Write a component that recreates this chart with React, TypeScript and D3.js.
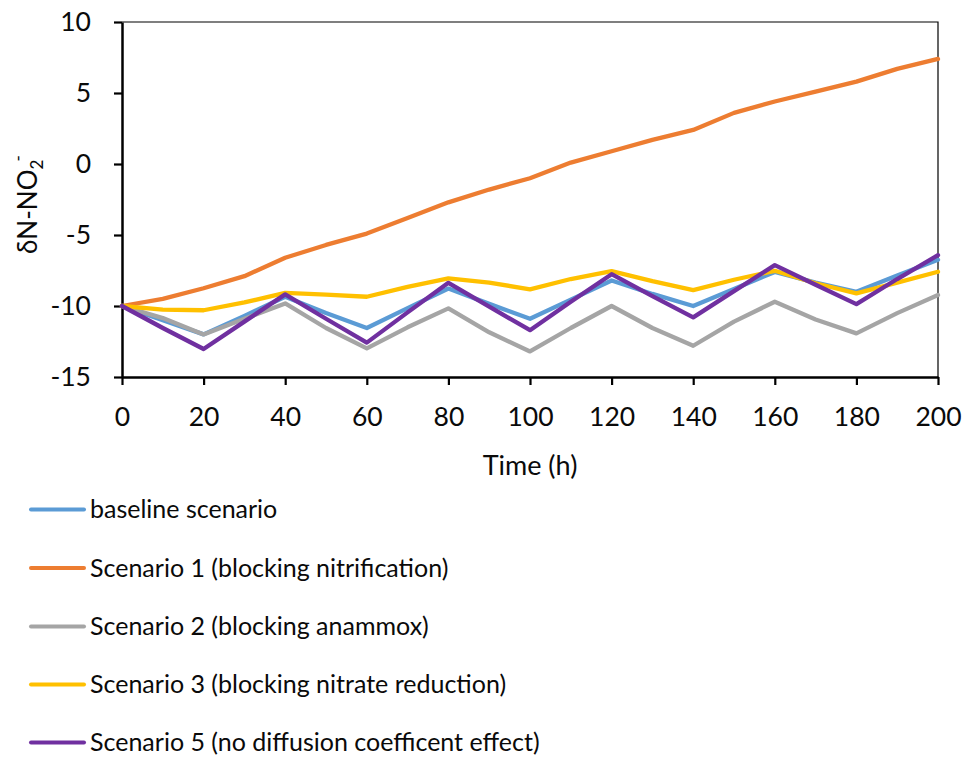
import { useEffect, useRef } from 'react';
import * as d3 from 'd3';

// time axis (h), one reading every 10 h
const hours = [0, 10, 20, 30, 40, 50, 60, 70, 80, 90, 100, 110, 120, 130, 140, 150, 160, 170, 180, 190, 200];

const baseline = [-10, -11.0, -12.0, -10.7, -9.35, -10.5, -11.55, -10.15, -8.77, -9.85, -10.9, -9.55, -8.2, -9.15, -10.0, -8.8, -7.6, -8.35, -9.0, -7.85, -6.75];
const scenario1 = [-10, -9.5, -8.75, -7.9, -6.6, -5.7, -4.9, -3.8, -2.7, -1.8, -1.0, 0.1, 0.9, 1.7, 2.4, 3.6, 4.4, 5.1, 5.8, 6.7, 7.4];
const scenario2 = [-10, -10.85, -12.0, -10.9, -9.82, -11.55, -12.98, -11.5, -10.17, -11.85, -13.2, -11.55, -10.0, -11.55, -12.8, -11.1, -9.7, -10.95, -11.93, -10.5, -9.23];
const scenario3 = [-10, -10.25, -10.3, -9.75, -9.07, -9.2, -9.35, -8.65, -8.06, -8.35, -8.83, -8.1, -7.55, -8.25, -8.88, -8.15, -7.52, -8.4, -9.11, -8.35, -7.59];
const scenario5 = [-10, -11.55, -13.03, -11.1, -9.18, -10.9, -12.58, -10.45, -8.37, -10.05, -11.7, -9.7, -7.76, -9.3, -10.8, -8.95, -7.12, -8.5, -9.87, -8.1, -6.42];

const seriesNames = [
    'baseline scenario',
    'Scenario 1 (blocking nitrification)',
    'Scenario 2 (blocking anammox)',
    'Scenario 3 (blocking nitrate reduction)',
    'Scenario 5 (no diffusion coefficent effect)',
];
const seriesValues = [baseline, scenario1, scenario2, scenario3, scenario5];
const colors = ['#5B9BD5', '#ED7D31', '#A5A5A5', '#FFC000', '#7030A0'];

const xTicks = [0, 20, 40, 60, 80, 100, 120, 140, 160, 180, 200];
const yTicks = [-15, -10, -5, 0, 5, 10];

const [width, height] = [966, 757];
const plot = { left: 122, right: 938, top: 22, bottom: 377 };
const font = 'Lato, "Open Sans", sans-serif';

function App() {
    const node = useRef<SVGSVGElement>(null);

    useEffect(() => {
        if (!node.current) return;
        const svg = d3.select(node.current);
        svg.selectAll('*').remove();

        const x = d3.scaleLinear().domain([0, 200]).range([plot.left, plot.right]);
        const y = d3.scaleLinear().domain([-15, 10]).range([plot.bottom, plot.top]);

        // thin frame on top and right
        svg.append('path')
            .attr('d', `M${plot.left},${plot.top}H${plot.right}V${plot.bottom}`)
            .attr('fill', 'none').attr('stroke', '#000').attr('stroke-width', 1.2);

        const xAxis = svg.append('g')
            .attr('transform', `translate(0,${plot.bottom})`)
            .call(d3.axisBottom(x).tickValues(xTicks).tickSize(8).tickSizeOuter(0).tickPadding(22));
        const yAxis = svg.append('g')
            .attr('transform', `translate(${plot.left},0)`)
            .call(d3.axisLeft(y).tickValues(yTicks).tickSize(8).tickSizeOuter(0).tickPadding(23)
                .tickFormat(d => String(d)));

        [xAxis, yAxis].forEach(g => {
            g.select('.domain').attr('stroke', '#000').attr('stroke-width', 2.5);
            g.selectAll('.tick line').attr('stroke', '#000').attr('stroke-width', 2.2);
            g.selectAll('.tick text')
                .attr('fill', '#0a0a0a')
                .style('font-family', font)
                .style('font-size', '26.5px');
        });

        const line = d3.line<number>()
            .x((_, i) => x(hours[i]))
            .y(d => y(d));

        seriesValues.forEach((vals, i) => {
            svg.append('path')
                .datum(vals)
                .attr('d', line)
                .attr('fill', 'none')
                .attr('stroke', colors[i])
                .attr('stroke-width', 4.3)
                .attr('stroke-linejoin', 'round')
                .attr('stroke-linecap', 'round');
        });

        // axis titles
        svg.append('text')
            .attr('x', (plot.left + plot.right) / 2)
            .attr('y', 475)
            .attr('text-anchor', 'middle')
            .attr('fill', '#0a0a0a')
            .style('font-family', font)
            .style('font-size', '27px')
            .text('Time (h)');

        const yTitle = svg.append('text')
            .attr('transform', 'translate(37,254) rotate(-90)')
            .attr('fill', '#0a0a0a')
            .style('font-family', font)
            .style('font-size', '26px');
        yTitle.append('tspan').text('δN-NO');
        yTitle.append('tspan').attr('dy', 6).style('font-size', '17px').text('2');
        yTitle.append('tspan').attr('dy', -19).attr('dx', -2).style('font-size', '17px').text('-');

        // legend below the chart
        const legend = svg.append('g');
        const legendY = [509.5, 568, 626.5, 684.5, 742.5];
        seriesNames.forEach((name, i) => {
            const g = legend.append('g').attr('transform', `translate(0,${legendY[i]})`);
            g.append('line')
                .attr('x1', 31).attr('x2', 84)
                .attr('stroke', colors[i])
                .attr('stroke-width', 4)
                .attr('stroke-linecap', 'round');
            g.append('text')
                .attr('x', 90)
                .attr('y', 8.5)
                .attr('fill', '#0a0a0a')
                .style('font-family', font)
                .style('font-size', '25px')
                .text(name);
        });
    }, [node]);

    return (
        <div style={{ position: 'absolute', left: 0, top: 0 }}>
            <svg ref={node} width={width} height={height} style={{ display: 'block', background: '#fff' }}></svg>
        </div>
    );
}

export default App;
